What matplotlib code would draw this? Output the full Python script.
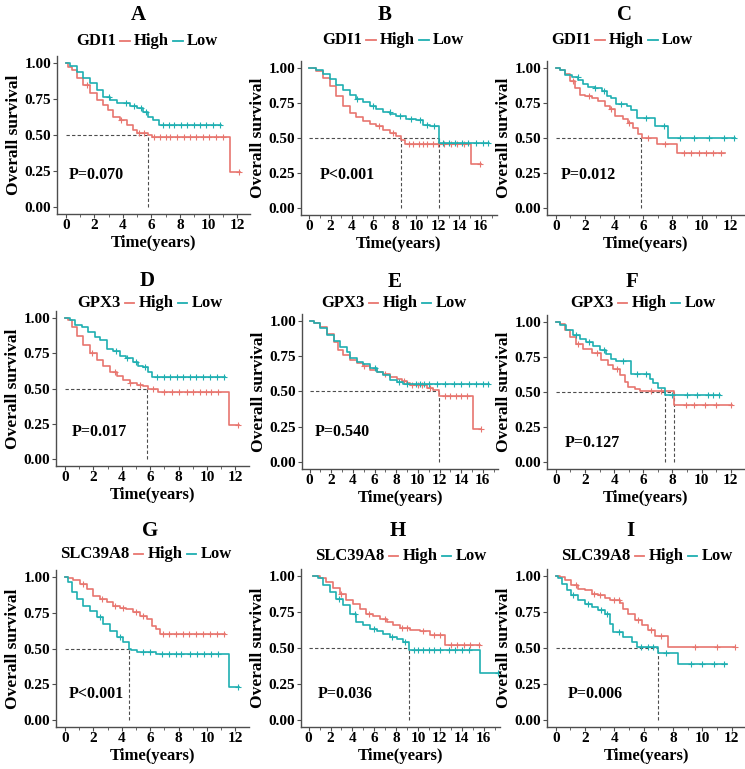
import numpy as np
import matplotlib
matplotlib.use('Agg')
import matplotlib.pyplot as plt
from matplotlib.offsetbox import HPacker, TextArea, DrawingArea, AnchoredOffsetbox
from matplotlib.lines import Line2D
from matplotlib.ticker import MultipleLocator, FormatStrFormatter

# ---- data: (time, survival) step vertices ----
a_high_t = [0, 0.15, 0.42, 0.77, 1.24, 1.71, 2.17, 2.64, 2.99, 3.34, 3.81, 4.28, 4.74, 4.98, 5.79, 6.03, 11.47, 12.17]
a_high_s = [1.0, 0.975, 0.953, 0.895, 0.85, 0.79, 0.745, 0.71, 0.675, 0.623, 0.605, 0.57, 0.535, 0.516, 0.50, 0.484, 0.24, 0.24]
a_low_t = [0, 0.30, 0.77, 1.24, 1.71, 2.17, 2.64, 3.11, 3.57, 4.51, 4.98, 5.44, 5.79, 6.14, 6.50, 10.86]
a_low_s = [1.0, 0.983, 0.94, 0.90, 0.86, 0.814, 0.767, 0.744, 0.72, 0.70, 0.686, 0.663, 0.628, 0.605, 0.57, 0.57]

b_high_t = [0, 0.68, 1.30, 1.93, 2.55, 3.17, 3.79, 4.41, 5.03, 5.65, 6.27, 6.89, 7.52, 8.14, 8.60, 8.91, 15.06, 15.99]
b_high_s = [1.0, 0.976, 0.93, 0.87, 0.80, 0.726, 0.68, 0.65, 0.62, 0.60, 0.583, 0.555, 0.536, 0.512, 0.488, 0.46, 0.317, 0.317]
b_low_t = [0, 0.68, 1.30, 1.93, 2.55, 3.17, 3.79, 4.41, 5.03, 5.65, 6.27, 6.89, 7.52, 8.14, 9.07, 10.0, 10.62, 11.24, 12.11, 16.77]
b_low_s = [1.0, 0.988, 0.96, 0.92, 0.88, 0.845, 0.81, 0.78, 0.755, 0.73, 0.707, 0.686, 0.674, 0.66, 0.636, 0.626, 0.595, 0.588, 0.465, 0.465]

c_high_t = [0, 0.27, 0.62, 0.96, 1.30, 1.65, 1.99, 2.45, 2.91, 3.36, 3.71, 4.05, 4.62, 4.97, 5.31, 5.65, 5.88, 6.91, 8.28, 11.6]
c_high_s = [1.0, 0.988, 0.96, 0.905, 0.857, 0.81, 0.798, 0.786, 0.762, 0.73, 0.707, 0.655, 0.636, 0.607, 0.571, 0.529, 0.50, 0.455, 0.393, 0.393]
c_low_t = [0, 0.27, 0.62, 1.08, 1.53, 1.88, 2.22, 2.68, 3.14, 3.48, 3.82, 4.16, 4.85, 5.19, 5.54, 6.80, 7.71, 12.29]
c_low_s = [1.0, 0.983, 0.952, 0.933, 0.912, 0.888, 0.864, 0.857, 0.833, 0.798, 0.786, 0.745, 0.73, 0.70, 0.643, 0.586, 0.50, 0.50]

d_high_t = [0, 0.23, 0.47, 0.82, 1.29, 1.76, 2.22, 2.69, 3.16, 3.63, 4.10, 4.57, 5.04, 5.50, 5.85, 6.55, 11.55, 12.25]
d_high_s = [1.0, 0.988, 0.94, 0.87, 0.81, 0.75, 0.705, 0.66, 0.62, 0.586, 0.558, 0.54, 0.527, 0.515, 0.50, 0.473, 0.24, 0.24]
d_low_t = [0, 0.35, 0.70, 1.17, 1.64, 2.11, 2.46, 2.93, 3.40, 3.86, 4.33, 4.80, 5.15, 5.50, 5.85, 6.09, 11.24]
d_low_s = [1.0, 0.983, 0.953, 0.936, 0.898, 0.865, 0.846, 0.78, 0.764, 0.733, 0.716, 0.686, 0.662, 0.652, 0.62, 0.585, 0.585]

e_high_t = [0, 0.37, 0.98, 1.60, 2.21, 2.67, 3.13, 3.74, 4.36, 4.97, 5.58, 6.20, 6.81, 7.42, 8.04, 8.50, 8.96, 9.26, 10.80, 11.41, 11.96, 15.09, 15.86]
e_high_s = [1.0, 0.983, 0.955, 0.908, 0.853, 0.794, 0.758, 0.727, 0.70, 0.68, 0.656, 0.64, 0.623, 0.604, 0.592, 0.576, 0.557, 0.545, 0.528, 0.509, 0.469, 0.237, 0.237]
e_low_t = [0, 0.37, 0.98, 1.60, 2.21, 2.82, 3.44, 3.74, 4.36, 4.97, 5.58, 6.20, 6.81, 7.42, 8.04, 8.65, 16.56]
e_low_s = [1.0, 0.988, 0.948, 0.90, 0.86, 0.817, 0.782, 0.735, 0.71, 0.694, 0.664, 0.64, 0.616, 0.585, 0.57, 0.55, 0.55]

f_high_t = [0, 0.27, 0.62, 0.96, 1.42, 1.87, 2.45, 3.13, 3.59, 3.93, 4.39, 4.73, 4.96, 5.42, 5.76, 8.11, 12.05]
f_high_s = [1.0, 0.983, 0.94, 0.893, 0.845, 0.81, 0.779, 0.726, 0.69, 0.667, 0.619, 0.571, 0.536, 0.524, 0.505, 0.405, 0.405]
f_low_t = [0, 0.27, 0.73, 1.19, 1.65, 2.10, 2.56, 3.02, 3.47, 3.82, 4.16, 5.19, 6.45, 6.67, 7.02, 7.52, 11.25]
f_low_s = [1.0, 0.976, 0.94, 0.905, 0.88, 0.857, 0.826, 0.802, 0.774, 0.738, 0.72, 0.63, 0.59, 0.565, 0.53, 0.476, 0.476]

g_high_t = [0, 0.23, 0.59, 1.05, 1.52, 1.99, 2.46, 2.93, 3.40, 3.86, 4.33, 4.80, 5.27, 5.74, 6.09, 6.44, 6.67, 11.24]
g_high_s = [1.0, 0.993, 0.977, 0.953, 0.918, 0.871, 0.848, 0.825, 0.80, 0.785, 0.778, 0.755, 0.731, 0.708, 0.66, 0.638, 0.603, 0.603]
g_low_t = [0, 0.23, 0.47, 0.82, 1.29, 1.76, 2.22, 2.69, 3.16, 3.63, 4.10, 4.52, 4.68, 5.04, 6.44, 11.55, 12.25]
g_low_s = [1.0, 0.965, 0.895, 0.848, 0.80, 0.766, 0.72, 0.673, 0.626, 0.58, 0.544, 0.50, 0.486, 0.474, 0.458, 0.227, 0.227]

h_high_t = [0.40, 1.01, 1.62, 2.23, 2.84, 3.46, 4.07, 4.68, 5.29, 5.90, 6.51, 7.13, 7.74, 8.35, 9.27, 10.18, 11.10, 12.48, 15.69]
h_high_s = [1.0, 0.984, 0.96, 0.921, 0.879, 0.837, 0.809, 0.774, 0.74, 0.72, 0.705, 0.681, 0.658, 0.642, 0.628, 0.619, 0.588, 0.52, 0.52]
h_low_t = [0.40, 0.86, 1.31, 1.93, 2.54, 3.15, 3.76, 4.37, 4.98, 5.60, 6.21, 6.82, 7.43, 8.04, 8.65, 9.20, 15.63, 17.37]
h_low_s = [1.0, 0.984, 0.937, 0.89, 0.844, 0.798, 0.74, 0.681, 0.658, 0.635, 0.619, 0.595, 0.577, 0.565, 0.542, 0.488, 0.325, 0.325]

i_high_t = [0, 0.27, 0.62, 1.07, 1.53, 1.98, 2.44, 2.89, 3.35, 3.69, 4.37, 4.60, 4.94, 5.40, 5.85, 6.31, 6.77, 7.68, 12.23]
i_high_s = [1.0, 0.995, 0.972, 0.937, 0.914, 0.902, 0.879, 0.867, 0.851, 0.833, 0.814, 0.774, 0.74, 0.693, 0.658, 0.623, 0.581, 0.505, 0.505]
i_low_t = [0, 0.16, 0.39, 0.73, 1.07, 1.53, 1.98, 2.44, 2.89, 3.35, 3.69, 3.92, 4.60, 5.17, 5.51, 6.95, 8.36, 11.66]
i_low_s = [1.0, 0.984, 0.949, 0.902, 0.867, 0.833, 0.809, 0.786, 0.763, 0.74, 0.67, 0.612, 0.577, 0.542, 0.505, 0.465, 0.391, 0.391]

# censor marks (times)
a_high_c = [1.5, 3.9, 5.1, 5.5, 6.2, 6.6, 7.0, 7.3, 7.8, 8.3, 8.7, 9.1, 9.6, 10.0, 10.5, 11.0, 12.1]
a_low_c = [3.0, 4.2, 4.8, 5.3, 5.6, 6.8, 7.2, 7.6, 8.1, 8.5, 9.0, 9.4, 9.8, 10.3, 10.8]
b_high_c = [6.5, 7.8, 9.3, 9.7, 10.2, 10.6, 11.0, 11.5, 12.0, 12.6, 13.2, 13.8, 14.4, 15.9]
b_low_c = [4.5, 6.0, 7.5, 8.5, 9.5, 10.3, 11.0, 11.6, 12.5, 13.0, 13.6, 14.2, 14.8, 15.5, 16.2, 16.7]
c_high_c = [1.2, 2.3, 3.8, 5.0, 6.3, 7.5, 8.8, 9.3, 9.8, 10.3, 10.8, 11.3]
c_low_c = [1.5, 2.7, 3.3, 4.5, 6.2, 7.4, 8.5, 9.5, 10.5, 11.5, 12.2]
d_high_c = [1.9, 3.5, 4.6, 5.3, 6.2, 7.0, 7.5, 8.0, 8.6, 9.0, 9.5, 9.9, 10.3, 10.8, 12.2]
d_low_c = [3.6, 4.4, 5.0, 5.6, 6.5, 7.0, 7.4, 7.9, 8.3, 8.8, 9.2, 9.7, 10.2, 10.7, 11.2]
e_high_c = [5.0, 7.0, 8.7, 9.5, 10.0, 10.4, 11.1, 12.5, 13.0, 13.5, 14.0, 14.5, 15.8]
e_low_c = [6.0, 8.3, 9.0, 9.8, 10.2, 10.6, 11.0, 11.8, 12.5, 13.3, 14.0, 14.7, 15.4, 16.0, 16.5]
f_high_c = [1.5, 2.8, 4.2, 6.5, 7.2, 8.9, 9.5, 10.2, 11.0, 12.0]
f_low_c = [1.4, 2.3, 3.3, 4.6, 5.6, 6.2, 8.0, 9.0, 9.7, 10.4, 10.8, 11.2]
g_high_c = [1.3, 2.6, 3.5, 4.1, 5.0, 5.5, 6.9, 7.3, 7.8, 8.3, 8.7, 9.2, 9.7, 10.2, 10.7, 11.2]
g_low_c = [2.5, 3.9, 5.5, 6.0, 6.8, 7.3, 7.8, 8.2, 8.8, 9.3, 9.8, 10.3, 10.8, 12.2]
h_high_c = [3.0, 5.5, 7.0, 8.5, 9.0, 10.5, 11.5, 12.0, 13.0, 13.6, 14.2, 14.8, 15.6]
h_low_c = [2.8, 4.2, 6.0, 7.6, 8.8, 9.6, 10.0, 10.5, 11.0, 11.5, 12.0, 12.8, 13.4, 14.0, 14.7, 17.3]
i_high_c = [1.4, 2.6, 3.0, 4.0, 4.3, 5.6, 6.5, 7.2, 9.5, 11.0, 12.2]
i_low_c = [1.2, 2.2, 3.1, 3.5, 4.3, 5.8, 6.3, 6.6, 7.5, 9.2, 10.0, 10.8, 11.5]

letters = ['A', 'B', 'C', 'D', 'E', 'F', 'G', 'H', 'I']
genes = ['GDI1', 'GDI1', 'GDI1', 'GPX3', 'GPX3', 'GPX3', 'SLC39A8', 'SLC39A8', 'SLC39A8']
p_labels = ['P=0.070', 'P<0.001', 'P=0.012', 'P=0.017', 'P=0.540', 'P=0.127', 'P<0.001', 'P=0.036', 'P=0.006']
medians = [[5.75], [8.54, 12.11], [5.81], [5.80], [11.96], [7.52, 8.11], [4.52], [9.20], [6.95]]

highs = [(a_high_t, a_high_s, a_high_c), (b_high_t, b_high_s, b_high_c), (c_high_t, c_high_s, c_high_c),
         (d_high_t, d_high_s, d_high_c), (e_high_t, e_high_s, e_high_c), (f_high_t, f_high_s, f_high_c),
         (g_high_t, g_high_s, g_high_c), (h_high_t, h_high_s, h_high_c), (i_high_t, i_high_s, i_high_c)]
lows = [(a_low_t, a_low_s, a_low_c), (b_low_t, b_low_s, b_low_c), (c_low_t, c_low_s, c_low_c),
        (d_low_t, d_low_s, d_low_c), (e_low_t, e_low_s, e_low_c), (f_low_t, f_low_s, f_low_c),
        (g_low_t, g_low_s, g_low_c), (h_low_t, h_low_s, h_low_c), (i_low_t, i_low_s, i_low_c)]

# ---- layout (pixels) ----
W, H = 745, 769
RED = '#E8766F'
TEAL = '#1FAFB1'
GREY = '#4d4d4d'

# axes rect: left, top, right, bottom ; x limits
rects = [(57, 56, 250, 214), (301, 61, 497, 215), (547, 61, 744, 215),
         (56, 311, 249, 466), (302, 314, 498, 469), (547, 315, 744, 469),
         (56, 570, 249, 727), (301, 569, 500, 727), (547, 569, 745, 727)]
xlims = [(-0.61, 12.9), (-0.75, 17.5), (-0.6, 12.9),
         (-0.63, 12.95), (-0.7, 17.4), (-0.6, 12.9),
         (-0.63, 12.95), (-0.7, 17.5), (-0.6, 12.9)]
title_pos = [(138, 15), (385, 15), (625, 15), (147, 281), (395, 282), (632, 282),
             (150, 531), (398, 531), (630, 531)]
legend_pos = [(147, 41), (393, 40), (622, 40), (150, 303), (394, 303), (643, 303),
              (146, 554), (401, 556), (647, 556)]
p_pos = [(0.19, 0.22), (1.0, 0.233), (0.34, 0.233), (0.47, 0.19), (0.52, 0.213),
         (0.62, 0.136), (0.23, 0.18), (0.86, 0.18), (0.80, 0.177)]

plt.rcParams['font.family'] = ['Liberation Serif', 'DejaVu Serif']
plt.rcParams['font.weight'] = 'bold'

fig = plt.figure(figsize=(W / 100, H / 100), dpi=100)


def step_value(t, s, x):
    idx = np.searchsorted(t, x, side='right') - 1
    return np.asarray(s)[np.clip(idx, 0, len(s) - 1)]


def key(color):
    da = DrawingArea(9, 8, 0, 0)
    da.add_artist(Line2D([1, 8], [4, 4], color=color, lw=1.3))
    return da


for k in range(9):
    l, t, r, b = rects[k]
    ax = fig.add_axes([l / W, 1 - b / H, (r - l) / W, (b - t) / H])

    for (ct, cs, cc), col in [(highs[k], RED), (lows[k], TEAL)]:
        ax.step(ct, cs, where='post', color=col, lw=1.2, zorder=3)
        ax.plot(cc, step_value(np.asarray(ct), cs, np.asarray(cc)), ls='none', marker='+',
                ms=4, mew=0.8, color=col, zorder=3)

    meds = medians[k]
    ax.plot([0, max(meds)], [0.5, 0.5], color=GREY, lw=0.8, ls=(0, (3, 2)), zorder=2)
    for m in meds:
        ax.plot([m, m], [0, 0.5], color=GREY, lw=0.8, ls=(0, (3, 2)), zorder=2)

    ax.text(p_pos[k][0], p_pos[k][1], p_labels[k], ha='left', va='center',
            fontsize=11.5, fontweight='bold')

    ax.set_xlim(*xlims[k])
    ax.set_ylim(-0.05, 1.05)
    ax.xaxis.set_major_locator(MultipleLocator(2))
    ax.xaxis.set_minor_locator(MultipleLocator(1))
    ax.set_yticks([0, 0.25, 0.5, 0.75, 1.0])
    ax.yaxis.set_major_formatter(FormatStrFormatter('%.2f'))
    for side in ['top', 'right']:
        ax.spines[side].set_visible(False)
    for side in ['left', 'bottom']:
        ax.spines[side].set_color(GREY)
        ax.spines[side].set_linewidth(1.0)
    ax.tick_params(axis='both', which='major', length=3, width=0.8, color=GREY,
                   labelsize=11, pad=1)
    ax.tick_params(axis='x', which='major', pad=0.5)
    ax.tick_params(axis='x', which='minor', length=2, width=0.6, color=GREY)
    for lab in ax.get_xticklabels() + ax.get_yticklabels():
        lab.set_fontweight('bold')

    ax.set_xlabel('Time(years)', fontsize=12, fontweight='bold')
    ax.set_ylabel('Overall survival', fontsize=12.5, fontweight='bold')
    ax.xaxis.label.set_va('center')
    ax.yaxis.label.set_va('center')
    ax.xaxis.set_label_coords(0.5, -29 / (b - t))
    ax.yaxis.set_label_coords(-43 / (r - l), 0.5)

    fig.text(title_pos[k][0] / W, 1 - title_pos[k][1] / H, letters[k],
             ha='center', va='center', fontsize=15, fontweight='bold')

    tp = dict(fontsize=12, fontweight='bold')
    box = HPacker(children=[TextArea(genes[k], textprops=tp), key(RED),
                            TextArea('High', textprops=tp), key(TEAL),
                            TextArea('Low', textprops=tp)],
                  align='center', pad=0, sep=2)
    anchored = AnchoredOffsetbox(loc='center', child=box, pad=0, frameon=False,
                                 bbox_to_anchor=(legend_pos[k][0] / W, 1 - legend_pos[k][1] / H),
                                 bbox_transform=fig.transFigure, borderpad=0)
    fig.add_artist(anchored)

fig.savefig('out.png', dpi=100)
